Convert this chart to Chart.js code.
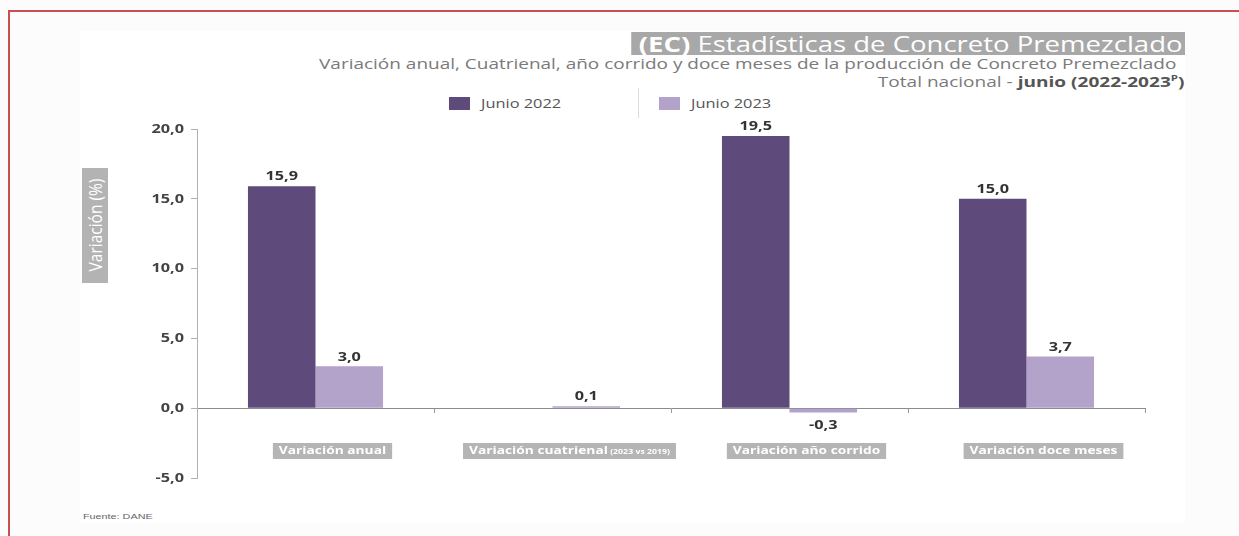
<!DOCTYPE html>
<html>
<head>
<meta charset="utf-8">
<script src="https://cdn.jsdelivr.net/npm/chart.js@4"></script>
<style>
  html, body { margin: 0; padding: 0; }
  body { width: 1239px; height: 536px; background: #fcfcfc; position: relative; overflow: hidden; font-family: 'Open Sans', sans-serif; }
  .frame-top { position: absolute; left: 8px; top: 10px; width: 1231px; height: 2px; background: #c9504f; }
  .frame-left { position: absolute; left: 8px; top: 10px; width: 2px; height: 526px; background: #c9504f; }
  .panel { position: absolute; left: 80px; top: 31px; width: 1105px; height: 491px; background: #fff; }
  /* the source picture is stretched sideways, so text is widened with scaleX */
  .title { position: absolute; right: 54px; top: 32px; height: 23px; line-height: 23px; background: #a8a8a8; color: #fff; font-size: 22px; padding: 0 2px 0 6px; white-space: nowrap; transform: scaleX(1.25); transform-origin: right center; }
  .title b { font-weight: 700; }
  .sub { position: absolute; right: 63px; top: 53px; font-size: 15.3px; color: #7a7a7a; white-space: nowrap; transform: scaleX(1.24); transform-origin: right center; }
  .sub2 { position: absolute; right: 55px; top: 71px; font-size: 15px; color: #7a7a7a; white-space: nowrap; transform: scaleX(1.27); transform-origin: right center; }
  .sub2 b { color: #555; }
  .sub2 sup { font-size: 9px; }
  .legend { position: absolute; top: 88px; left: 449px; height: 30px; display: flex; align-items: center; font-size: 13px; color: #555; }
  .legend .sw { display: inline-block; width: 21px; height: 13px; margin-right: 11px; }
  .legend .txt { display: inline-block; width: 81px; white-space: nowrap; }
  .legend .txt span { display: inline-block; transform: scaleX(1.26); transform-origin: left center; }
  .legend .sep { width: 1px; height: 30px; background: #dcdcdc; margin: 0 20px 0 76px; }
  .ytitle { position: absolute; left: 82px; top: 168px; width: 26px; height: 115px; background: #b3b3b3; }
  .ytitle span { position: absolute; left: 13px; top: 57px; transform: translate(-50%, -50%) rotate(-90deg) scaleY(1.2); color: #fff; font-size: 15.5px; white-space: nowrap; }
  .source { position: absolute; left: 83px; top: 512px; font-size: 8px; color: #666; font-family: 'Liberation Sans', Arial, sans-serif; transform: scaleX(1.35); transform-origin: left center; }
  #chart { position: absolute; left: 0; top: 0; }
</style>
</head>
<body>
<div class="frame-top"></div>
<div class="frame-left"></div>
<div class="panel"></div>
<div class="title"><b>(EC)</b> Estadísticas de Concreto Premezclado</div>
<div class="sub">Variación anual, Cuatrienal, año corrido y doce meses de la producción de Concreto Premezclado</div>
<div class="sub2">Total nacional - <b>junio (2022-2023<sup>P</sup>)</b></div>
<div class="legend" id="legend"></div>
<div class="ytitle"><span>Variación (%)</span></div>
<div class="source">Fuente: DANE</div>
<canvas id="chart" width="1239" height="536"></canvas>
<script>
const categories = ['Variación anual', 'Variación cuatrienal', 'Variación año corrido', 'Variación doce meses'];
const categoryNotes = ['', '(2023 vs 2019)', '', ''];
const seriesNames = ['Junio 2022', 'Junio 2023'];
const junio2022 = [15.9, null, 19.5, 15.0];
const junio2023 = [3.0, 0.1, -0.3, 3.7];
const yMin = -5, yMax = 20, yStep = 5;
const colors = ['#5e4a7b', '#b3a2c9'];
const STRETCH = 1.25;

// legend in html
var legend = document.getElementById('legend');
seriesNames.forEach(function (name, i) {
    if (i > 0) legend.insertAdjacentHTML('beforeend', '<span class="sep"></span>');
    legend.insertAdjacentHTML('beforeend', '<span class="sw" style="background:' + colors[i] + '"></span><span class="txt"><span>' + name + '</span></span>');
});

function fmt(v) { return v.toFixed(1).replace('.', ','); }

// text widened sideways, same as the source picture
function wideText(ctx, text, x, y) {
    ctx.save();
    ctx.translate(x, y);
    ctx.scale(STRETCH, 1);
    ctx.fillText(text, 0, 0);
    ctx.restore();
}

const valueLabels = {
    id: 'valueLabels',
    afterDatasetsDraw(chart) {
        const ctx = chart.ctx;
        ctx.save();
        ctx.font = 'bold 13px "Open Sans"';
        ctx.fillStyle = '#333';
        ctx.textAlign = 'center';
        chart.data.datasets.forEach(function (ds, di) {
            chart.getDatasetMeta(di).data.forEach(function (bar, i) {
                const v = ds.data[i];
                if (v === null) return;
                if (v >= 0) {
                    ctx.textBaseline = 'bottom';
                    wideText(ctx, fmt(v), bar.x, bar.y - 3);
                } else {
                    ctx.textBaseline = 'middle';
                    wideText(ctx, fmt(v), bar.x, bar.y + 13);
                }
            });
        });
        ctx.restore();
    }
};

const yLabels = {
    id: 'yLabels',
    afterDraw(chart) {
        const ctx = chart.ctx;
        const ys = chart.scales.y;
        ctx.save();
        ctx.font = 'bold 13px "Open Sans"';
        ctx.fillStyle = '#444';
        ctx.textAlign = 'right';
        ctx.textBaseline = 'middle';
        ys.ticks.forEach(function (t) {
            wideText(ctx, fmt(t.value), ys.right - 13, ys.getPixelForValue(t.value));
        });
        ctx.restore();
    }
};

const catLabels = {
    id: 'catLabels',
    afterDraw(chart) {
        const ctx = chart.ctx;
        const xs = chart.scales.x;
        const mainFont = 'bold 11px "Open Sans"';
        const noteFont = 'bold 7px "Open Sans"';
        ctx.save();
        categories.forEach(function (c, i) {
            ctx.font = mainFont;
            const w1 = ctx.measureText(c).width * STRETCH;
            let w2 = 0;
            if (categoryNotes[i]) {
                ctx.font = noteFont;
                w2 = ctx.measureText(' ' + categoryNotes[i]).width * STRETCH;
            }
            const w = w1 + w2 + 12;
            const cx = xs.getPixelForValue(i) + 17;
            const y = 451;
            ctx.fillStyle = '#b5b5b5';
            ctx.fillRect(cx - w / 2, y - 8, w, 16);
            ctx.fillStyle = '#fff';
            ctx.textBaseline = 'middle';
            ctx.textAlign = 'left';
            ctx.font = mainFont;
            wideText(ctx, c, cx - w / 2 + 6, y);
            if (categoryNotes[i]) {
                ctx.font = noteFont;
                wideText(ctx, ' ' + categoryNotes[i], cx - w / 2 + 6 + w1, y + 1);
            }
        });
        ctx.restore();
    }
};

new Chart(document.getElementById('chart').getContext('2d'), {
    type: 'bar',
    data: {
        labels: categories,
        datasets: [
            { label: seriesNames[0], data: junio2022, backgroundColor: colors[0], borderWidth: 0 },
            { label: seriesNames[1], data: junio2023, backgroundColor: colors[1], borderWidth: 0, minBarLength: 2 }
        ]
    },
    options: {
        responsive: false,
        animation: false,
        layout: { padding: { left: 137, top: 129, right: 94, bottom: 58 } },
        datasets: { bar: { categoryPercentage: 0.57, barPercentage: 1 } },
        plugins: { legend: { display: false }, tooltip: { enabled: false } },
        scales: {
            x: {
                position: { y: 0 },
                offset: true,
                grid: { offset: true, drawOnChartArea: false, tickLength: 4, color: '#999' },
                border: { color: '#8c8c8c' },
                ticks: { display: false }
            },
            y: {
                min: yMin,
                max: yMax,
                afterFit: function (s) { s.width = 60; },
                grid: { drawOnChartArea: false, tickLength: 6, color: '#b0b0b0' },
                border: { color: '#b0b0b0' },
                ticks: { stepSize: yStep, display: false }
            }
        }
    },
    plugins: [valueLabels, yLabels, catLabels]
});
</script>
</body>
</html>
